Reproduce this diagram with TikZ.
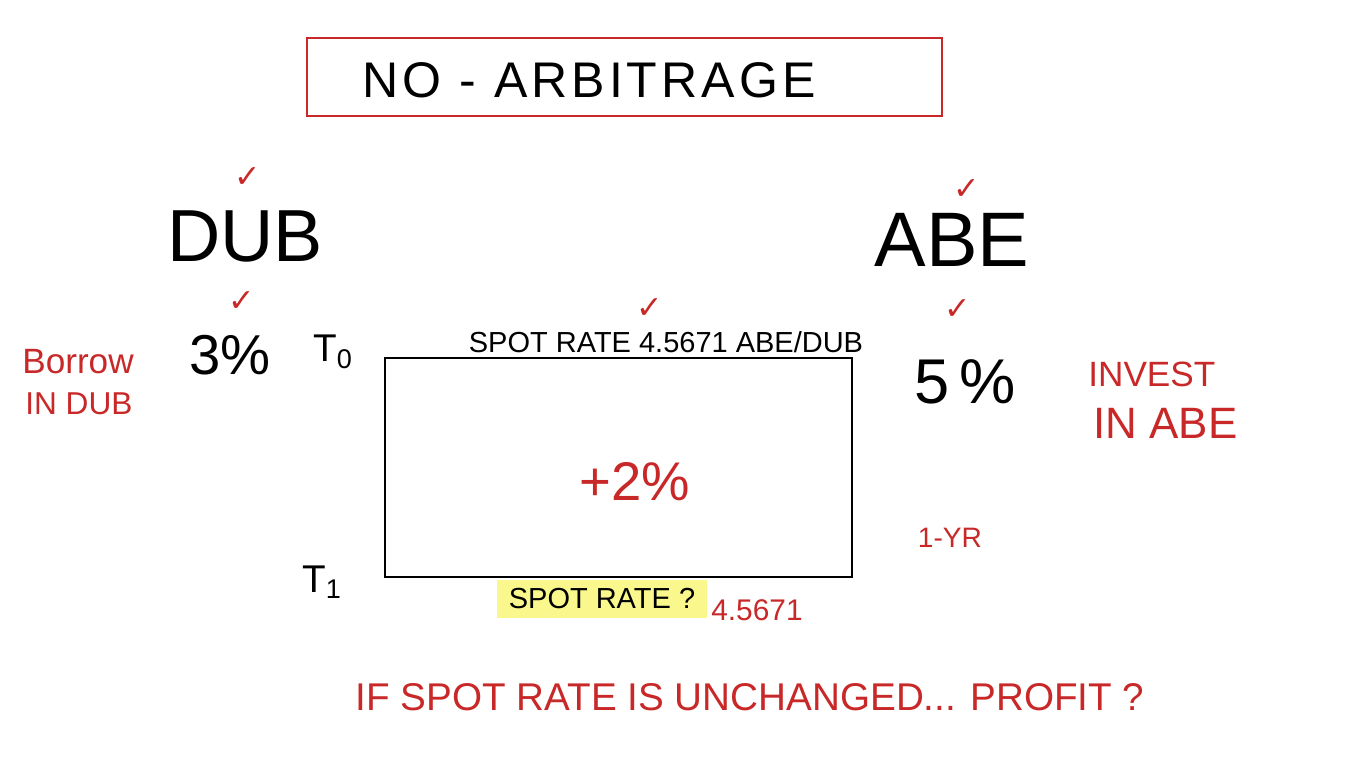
\documentclass[tikz,border=0pt]{standalone}
\usepackage{fontspec}
\setmainfont{Liberation Sans}
\newfontfamily\symfont{DejaVu Sans}
\usepackage{xcolor}
\usetikzlibrary{positioning}
\definecolor{penred}{RGB}{200,40,40}
\definecolor{hilite}{RGB}{250,248,140}
\newcommand{\penfont}[1]{\fontsize{#1}{#1}\selectfont}

\begin{document}
\begin{tikzpicture}[
  x=0.02cm, y=-0.02cm,
  ink/.style={inner sep=0, font=\penfont{#1}},
  redink/.style={inner sep=0, text=penred, font=\penfont{#1}},
  tick/.style={inner sep=0, text=penred, font=\symfont\penfont{18}}
]
  \useasboundingbox (0,0) rectangle (1370,764);

  % Title
  \node[draw=penred, line width=1pt, minimum width=12.7cm, minimum height=1.56cm] (titlebox) at (624.5,77) {};
  \node[inner sep=0, font=\addfontfeatures{LetterSpace=8}\penfont{28.5}] (title) at (589,80) {NO - ARBITRAGE};

  % Currencies
  \node[ink=42] (dub) at (245,236) {DUB};
  \node[ink=44] (abe) at (952,240) {ABE};

  % Rates
  \node[ink=32] (rdub) at (230,355) {3\%};
  \node[ink=36] (rabe) at (965,382) {5\,\%};
  \node[redink=20, anchor=west] (borrow1) at (22,362) {Borrow};
  \node[redink=18, anchor=west] (borrow2) at (25,404) {IN DUB};
  \node[redink=20, anchor=west] (invest1) at (1088,374) {INVEST};
  \node[redink=25, anchor=west] (invest2) at (1093,423) {IN ABE};

  % Period box
  \node[draw, line width=1.1pt, minimum width=9.34cm, minimum height=4.38cm] (period) at (618.5,467.5) {};
  \node[ink=16.5] (spot0) at (666,342) {SPOT RATE 4.5671 ABE/DUB};
  \node[ink=22] (t0) at (333,352) {T\textsubscript{0}};
  \node[ink=22] (t1) at (322,582) {T\textsubscript{1}};
  \node[redink=31] (gain) at (635,482) {+2\%};
  \node[redink=16] (horizon) at (950,538) {1-YR};

  % Future spot rate
  \node[fill=hilite, minimum width=4.22cm, minimum height=0.76cm, font=\penfont{16.5}] (spot1) at (602,599) {SPOT RATE ?};
  \node[redink=17] (spotval) at (757,610) {4.5671};

  % Question
  \node[redink=22] (question) at (750,697) {IF SPOT RATE IS UNCHANGED... PROFIT ?};

  % Checks
  \foreach \x/\y [count=\i] in {248/178, 967/190, 242/302, 650/309, 958/310} {
    \node[tick] (tick\i) at (\x,\y) {✓};
  }
\end{tikzpicture}
\end{document}
